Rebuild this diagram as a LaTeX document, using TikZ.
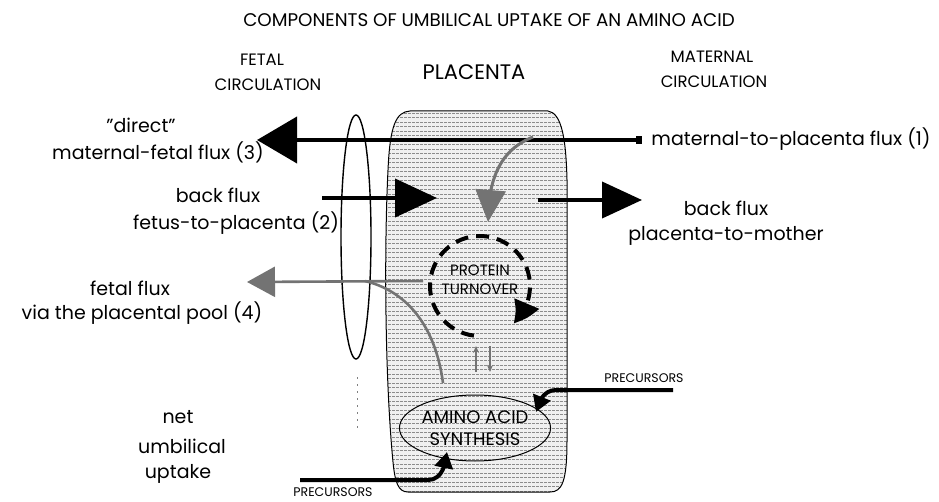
\documentclass[tikz,border=0pt]{standalone}
\usepackage{fontspec}
\setmainfont{Poppins}
\usetikzlibrary{arrows.meta,shapes.geometric,bending}
\newcommand{\fs}[1]{\fontsize{#1}{#1}\selectfont}
\tikzset{
  txt/.style={inner sep=0pt, anchor=center, font=\fs{19}},
  head/.style={inner sep=0pt, anchor=center, font=\fs{16.5}},
  small/.style={inner sep=0pt, anchor=center, font=\fs{12.5}},
  blk/.style={line width=4pt, black},
  gry/.style={line width=2.6pt, black!55},
}
\begin{document}
\begin{tikzpicture}[x=1pt,y=-1pt]
\useasboundingbox (0,0) rectangle (939,502);
% placenta body
\def\plac{(410,111) -- (548,111) .. controls (562,113) and (566,140) .. (567,180) -- (567,440) .. controls (567,482) and (562,492) .. (550,492) -- (408,492) .. controls (398,492) and (395,482) .. (393,462) .. controls (385,380) and (384,250) .. (388,170) .. controls (390,125) and (396,112) .. (410,111) -- cycle}
\fill[black!6] \plac;
\begin{scope}
\clip \plac;
\foreach \yy in {113,117.5,...,492}
  \draw[black!45, line width=0.5pt, dash pattern=on 2.5pt off 1.5pt] (380,\yy) -- (575,\yy);
\end{scope}
\draw[line width=1pt] \plac;

% fetal circulation ellipse
\node[draw, ellipse, line width=1.4pt, minimum width=30pt, minimum height=244pt, inner sep=0pt] (fcirc) at (356,237) {};
\coordinate (dotA) at (357,377);
\coordinate (dotB) at (357,432);
\draw[black!50, line width=0.8pt, dash pattern=on 2pt off 5pt] (dotA) -- (dotB);

% headings
\node[inner sep=0pt, font=\fs{18.3}] (title) at (489,20) {COMPONENTS OF UMBILICAL UPTAKE OF AN AMINO ACID};
\node[head] (fet1) at (262,60) {FETAL};
\node[head] (fet2) at (268,85) {CIRCULATION};
\node[inner sep=0pt, font=\fs{21}] (placl) at (474,72) {PLACENTA};
\node[head] (mat1) at (712,57) {MATERNAL};
\node[head] (mat2) at (714,82) {CIRCULATION};

% left labels
\node[txt] (dir) at (141,125) {"direct"};
\node[txt] (mf3) at (158,152) {maternal-fetal flux (3)};
\node[txt] (bf1) at (218,195) {back flux};
\node[txt] (bf2) at (236,223) {fetus-to-placenta (2)};
\node[txt] (ff1) at (130,288) {fetal flux};
\node[txt] (ff2) at (142,313) {via the placental pool (4)};
\node[txt] (net1) at (178,417) {net};
\node[txt] (net2) at (182,446) {umbilical};
\node[txt] (net3) at (178,474) {uptake};

% right labels
\node[txt] (m1) at (791,139) {maternal-to-placenta flux (1)};
\node[txt] (bm1) at (726,208) {back flux};
\node[txt] (bm2) at (726,236) {placenta-to-mother};
\node[small] (precR) at (644,378) {PRECURSORS};
\node[small] (precB) at (333,492) {PRECURSORS};

% inner labels
\node[inner sep=0pt, font=\fs{15}, align=center] (prot) at (480,280) {PROTEIN\\[4pt]TURNOVER};
\node[draw, ellipse, line width=1pt, minimum width=144pt, minimum height=66pt, inner sep=0pt,
      font=\fs{18}, align=center] (aas) at (475,428) {AMINO ACID\\[4pt]SYNTHESIS};

% (3) direct maternal-fetal flux
\coordinate (a3s) at (642,140);
\coordinate (a3e) at (257,140);
\draw[blk, {Rectangle[length=6pt,width=8pt]}-{Triangle[length=40pt,width=46pt]}] (a3s) -- (a3e);

% (2) back flux fetus-to-placenta
\coordinate (a2s) at (322,198);
\coordinate (a2e) at (437,198);
\draw[blk, -{Triangle[length=42pt,width=38pt]}] (a2s) -- (a2e);

% back flux placenta-to-mother
\coordinate (bms) at (538,200);
\coordinate (bme) at (642,200);
\draw[blk, -{Triangle[length=40pt,width=36pt]}] (bms) -- (bme);

% gray arrow into protein turnover
\coordinate (g1s) at (533,137);
\coordinate (g1e) at (488,222);
\draw[gry, line width=3pt, -{Triangle[length=32pt,width=30pt]}] (g1s) .. controls (505,148) and (488,172) .. (g1e);

% protein turnover cycle
\coordinate (pc) at (480,286);
\draw[line width=4pt, dash pattern=on 13pt off 8pt, -{Triangle[length=24pt,width=26pt,bend]}]
  (pc) ++(97:50) arc[start angle=97, end angle=408, radius=50];

% exchange arrows
\coordinate (u1) at (476,372); \coordinate (u2) at (476,346);
\coordinate (d1) at (490,346); \coordinate (d2) at (490,372);
\draw[black!55, line width=1.3pt, -{Stealth[length=7pt,width=6pt]}] (u1) -- (u2);
\draw[black!55, line width=1.3pt, -{Stealth[length=7pt,width=6pt]}] (d1) -- (d2);

% (4) fetal flux via placental pool
\coordinate (c4s) at (443,383);
\coordinate (c4m) at (365,281);
\coordinate (h4s) at (423,281);
\coordinate (h4e) at (247,282);
\draw[gry] (c4s) .. controls (436,330) and (410,292) .. (c4m);
\draw[gry, -{Triangle[length=28pt,width=30pt]}] (h4s) -- (h4e);

% precursors arrows
\coordinate (prs) at (673,390);
\coordinate (pre) at (536,412);
\draw[blk, -{Triangle[length=16pt,width=18pt]}] (prs) -- (556,390) .. controls (546,390) and (539,398) .. (pre);
\coordinate (pbs) at (300,480);
\coordinate (pbe) at (447,452);
\draw[blk, -{Triangle[length=16pt,width=18pt]}] (pbs) -- (428,480) .. controls (438,480) and (445,472) .. (pbe);
\end{tikzpicture}
\end{document}
